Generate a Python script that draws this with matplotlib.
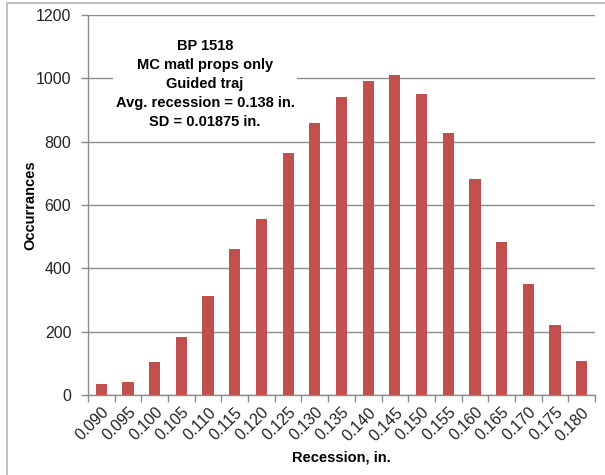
import matplotlib
matplotlib.use("Agg")
import matplotlib.pyplot as plt
from matplotlib.patches import Rectangle
import numpy as np

categories = ["0.090", "0.095", "0.100", "0.105", "0.110", "0.115", "0.120", "0.125",
              "0.130", "0.135", "0.140", "0.145", "0.150", "0.155", "0.160", "0.165",
              "0.170", "0.175", "0.180"]
occurrences = [35, 40, 105, 182, 313, 460, 557, 765, 858, 942, 990, 1012, 952,
               828, 682, 483, 352, 222, 108]
yticks = [0, 200, 400, 600, 800, 1000, 1200]
annotation = "BP 1518\nMC matl props only\nGuided traj\nAvg. recession = 0.138 in.\nSD = 0.01875 in."

plt.rcParams['font.family'] = ['Liberation Sans', 'DejaVu Sans']

fig = plt.figure(figsize=(6.05, 4.75), dpi=100)
fig.patch.set_facecolor("white")
fig.add_artist(Rectangle((6.5/605, -0.05), 1.2, 1 - 2.5/475 + 0.05, transform=fig.transFigure,
                         fill=False, edgecolor="#b5b5b5", linewidth=1.2))

ax = fig.add_axes([88/605, 1 - 395/475, (595 - 88)/605, (395 - 15)/475])
x = np.arange(len(categories))
ax.bar(x, occurrences, width=0.42, color="#C0504D", zorder=3)
ax.set_xlim(-0.5, len(categories) - 0.5)
ax.set_ylim(0, 1200)
ax.set_yticks(yticks)
ax.set_yticklabels([str(v) for v in yticks], fontsize=11.5, color="#222222")
ax.yaxis.grid(True, color="#8c8c8c", linewidth=1.0, zorder=0)
ax.tick_params(axis='y', length=5, color="#8c8c8c", width=1, pad=7)

ax.set_xticks(x)
ax.set_xticklabels(categories, rotation=45, ha="right", rotation_mode="anchor",
                   fontsize=11.5, color="#222222")
ax.set_xticks(np.arange(-0.5, len(categories)), minor=True)
ax.tick_params(axis='x', which='major', length=0, pad=7)
ax.tick_params(axis='x', which='minor', length=5, color="#8c8c8c", width=1)

for s in ["top", "right"]:
    ax.spines[s].set_visible(False)
for s in ["left", "bottom"]:
    ax.spines[s].set_color("#8c8c8c")
    ax.spines[s].set_linewidth(1.0)

ax.set_ylabel("Occurrances", fontsize=10.5, fontweight="bold")
ax.yaxis.set_label_coords((37 - 88) / 507, 0.5)
ax.set_xlabel("Recession, in.", fontsize=10.5, fontweight="bold")
ax.xaxis.set_label_coords(0.5, (395 - 451) / 380)

ax.text(205/605, 1 - 84/475, annotation, transform=fig.transFigure, ha="center", va="center",
        fontsize=10.5, fontweight="bold", linespacing=1.45, zorder=5,
        bbox=dict(facecolor="white", edgecolor="none", pad=2))

fig.savefig("out.png", dpi=100)
